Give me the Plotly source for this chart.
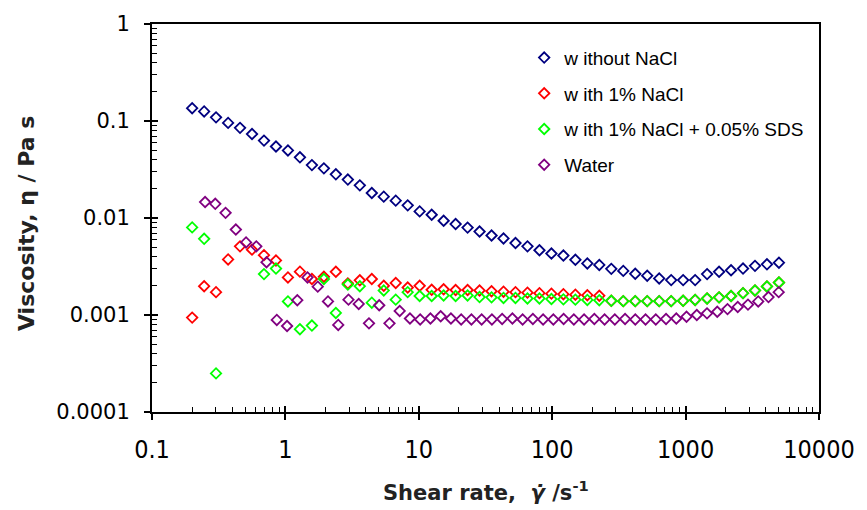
import plotly.graph_objects as go

# Shear rates (1/s) shared by the three solutions
shear_rate = [0.2, 0.246, 0.302, 0.372, 0.457, 0.562, 0.691, 0.85, 1.045, 1.285,
              1.58, 1.943, 2.389, 2.938, 3.613, 4.442, 5.462, 6.716, 8.258, 10.15,
              12.49, 15.35, 18.88, 23.21, 28.54, 35.1, 43.16, 53.07, 65.25, 80.24,
              98.66, 121.3, 149.2, 183.4, 225.5, 277.3, 341.0, 419.3, 515.6, 634.0,
              779.5, 958.5, 1179, 1449, 1782, 2191, 2694, 3313, 4073, 5009]

without_nacl = [0.1355, 0.1255, 0.109, 0.0956, 0.085, 0.0734, 0.0628, 0.0546, 0.0497, 0.0422,
                0.0351, 0.0325, 0.0282, 0.0249, 0.0217, 0.0181, 0.0166, 0.0151, 0.0135, 0.0117,
                0.0108, 0.00937, 0.00866, 0.00796, 0.00725, 0.0066, 0.00615, 0.00552, 0.0051, 0.00465,
                0.0043, 0.0041, 0.00371, 0.0034, 0.00328, 0.00299, 0.00285, 0.00266, 0.00254, 0.00238,
                0.00229, 0.00229, 0.00229, 0.00264, 0.00279, 0.00289, 0.00301, 0.00321, 0.00333, 0.00346]

with_nacl = [0.00094, 0.00198, 0.00172, 0.00374, 0.0051, 0.00472, 0.00414, 0.00365, 0.00244, 0.0028,
             0.00235, 0.00248, 0.00279, 0.00212, 0.00228, 0.00235, 0.0020, 0.00214, 0.00192, 0.0020,
             0.00182, 0.00184, 0.00181, 0.00181, 0.00179, 0.00176, 0.00174, 0.00172, 0.0017, 0.00168,
             0.00166, 0.00164, 0.00162, 0.0016, 0.00158, 0.0014, 0.00139, 0.00139, 0.00139, 0.00139,
             0.00139, 0.0014, 0.00143, 0.00148, 0.00152, 0.00157, 0.00168, 0.00179, 0.00197, 0.00216]

with_nacl_sds = [0.0080, 0.0061, 0.00025, None, None, None, 0.00264, 0.00301, 0.00138, 0.000714,
                 0.000778, 0.00235, 0.00105, 0.00206, 0.00198, 0.00134, 0.00179, 0.00144, 0.00172, 0.00157,
                 0.00157, 0.00159, 0.00157, 0.00159, 0.00153, 0.00152, 0.0015, 0.0015, 0.00148, 0.00148,
                 0.00146, 0.00145, 0.00144, 0.00143, 0.00142, 0.0014, 0.00139, 0.00139, 0.00139, 0.00139,
                 0.00139, 0.0014, 0.00143, 0.00148, 0.00152, 0.00157, 0.00168, 0.00179, 0.00197, 0.00216]

# Water was measured on its own shear-rate grid
water_shear_rate = [0.25, 0.298, 0.356, 0.425, 0.507, 0.605, 0.722, 0.862, 1.029, 1.228,
                    1.465, 1.748, 2.086, 2.49, 2.971, 3.546, 4.232, 5.05, 6.027, 7.193,
                    8.584, 10.24, 12.22, 14.59, 17.41, 20.78, 24.8, 29.59, 35.32, 42.15,
                    50.3, 60.03, 71.64, 85.5, 102.0, 121.8, 145.3, 173.4, 207.0, 247.0,
                    294.8, 351.8, 419.8, 501.0, 597.9, 713.5, 851.5, 1016, 1213, 1447,
                    1727, 2061, 2460, 2935, 3503, 4181, 4989]
water = [0.0146, 0.014, 0.0113, 0.0076, 0.0056, 0.0051, 0.0035, 0.00089, 0.00077, 0.00142,
         0.00244, 0.00196, 0.00138, 0.00079, 0.00144, 0.0013, 0.00082, 0.00126, 0.00082, 0.0011,
         0.00092, 0.0009, 0.00092, 0.00097, 0.00092, 0.0009, 0.0009, 0.0009, 0.0009, 0.00091,
         0.00092, 0.0009, 0.00091, 0.0009, 0.0009, 0.00091, 0.0009, 0.0009, 0.00091, 0.0009,
         0.0009, 0.00091, 0.0009, 0.0009, 0.0009, 0.00091, 0.00092, 0.00096, 0.001, 0.00104,
         0.00108, 0.00115, 0.00121, 0.00128, 0.00138, 0.00153, 0.00172]

series_names = ["w ithout NaCl", "w ith 1% NaCl", "w ith 1% NaCl + 0.05% SDS", "Water"]
series_colors = ["#000080", "#FF0000", "#00FF00", "#800080"]

x_tickvals = [0.1, 1, 10, 100, 1000, 10000]
x_ticktext = ["0.1", "1", "10", "100", "1000", "10000"]
y_tickvals = [0.0001, 0.001, 0.01, 0.1, 1]
y_ticktext = ["0.0001", "0.001", "0.01", "0.1", "1"]

minor_x = [k * 10.0 ** e for e in range(-1, 4) for k in range(2, 10)]
minor_y = [k * 10.0 ** e for e in range(-4, 0) for k in range(2, 10)]

fig = go.Figure()
data = [(shear_rate, without_nacl), (shear_rate, with_nacl),
        (shear_rate, with_nacl_sds), (water_shear_rate, water)]
for (xs, ys), name, col in zip(data, series_names, series_colors):
    fig.add_trace(go.Scatter(
        x=xs, y=ys, mode="markers", name=name, legendgroup=name,
        marker=dict(symbol="diamond-open", size=8, color=col, line=dict(width=1.8, color=col)),
    ))

# empty trace to host the overlay axes drawing the inner half of the major ticks
fig.add_trace(go.Scatter(x=[], y=[], xaxis="x2", yaxis="y2", showlegend=False, hoverinfo="skip"))

tick_font_y = dict(family="DejaVu Sans, Verdana, sans-serif", size=21, color="black")
tick_font_x = dict(family="DejaVu Sans Condensed, Liberation Sans Narrow, Liberation Sans, sans-serif",
                   size=25, color="black")

fig.update_layout(
    width=867, height=510,
    margin=dict(l=152, r=40, t=17, b=98),
    paper_bgcolor="white", plot_bgcolor="white",
    showlegend=True,
    legend=dict(
        x=0.558, y=0.962, xanchor="left", yanchor="top",
        font=dict(family="Liberation Sans, Arial, sans-serif", size=19, color="black"),
        bgcolor="rgba(0,0,0,0)", tracegroupgap=8,
    ),
    xaxis=dict(
        type="log", range=[-1, 4], tickmode="array", tickvals=x_tickvals, ticktext=x_ticktext,
        ticks="outside", ticklen=6, tickwidth=1.5, tickcolor="black",
        showline=True, linewidth=2, linecolor="black", mirror=True,
        showgrid=False, zeroline=False, tickfont=tick_font_x, ticklabelstandoff=8,
        ticklabeloverflow="allow",
        minor=dict(tickmode="array", tickvals=minor_x, ticks="inside", ticklen=5,
                   tickwidth=1, tickcolor="black", showgrid=False),
    ),
    yaxis=dict(
        type="log", range=[-4, 0], tickmode="array", tickvals=y_tickvals, ticktext=y_ticktext,
        ticks="outside", ticklen=6, tickwidth=1.5, tickcolor="black",
        showline=True, linewidth=2, linecolor="black", mirror=True,
        showgrid=False, zeroline=False, tickfont=tick_font_y, ticklabelstandoff=10,
        ticklabeloverflow="allow",
        minor=dict(tickmode="array", tickvals=minor_y, ticks="inside", ticklen=5,
                   tickwidth=1, tickcolor="black", showgrid=False),
    ),
    xaxis2=dict(
        type="log", range=[-1, 4], overlaying="x", anchor="y2", tickmode="array",
        tickvals=x_tickvals, ticks="inside", ticklen=6, tickwidth=1.5, tickcolor="black",
        showticklabels=False, showline=False, showgrid=False, zeroline=False,
    ),
    yaxis2=dict(
        type="log", range=[-4, 0], overlaying="y", anchor="x2", tickmode="array",
        tickvals=y_tickvals, ticks="inside", ticklen=6, tickwidth=1.5, tickcolor="black",
        showticklabels=False, showline=False, showgrid=False, zeroline=False,
    ),
    annotations=[
        dict(text="<b>Shear rate,  <i>γ̇</i> /s<sup>-1</sup></b>", xref="paper", yref="paper",
             x=0.5, y=-0.2025, xanchor="center", yanchor="middle", showarrow=False,
             font=dict(family="DejaVu Sans, Verdana, sans-serif", size=21, color="#222222")),
        dict(text="<b>Viscosity, η / Pa s</b>", xref="paper", yref="paper",
             x=-0.188, y=0.486, xanchor="center", yanchor="middle", textangle=-90, showarrow=False,
             font=dict(family="DejaVu Sans, Verdana, sans-serif", size=22, color="#222222")),
    ],
)

fig.write_html("out.html")
